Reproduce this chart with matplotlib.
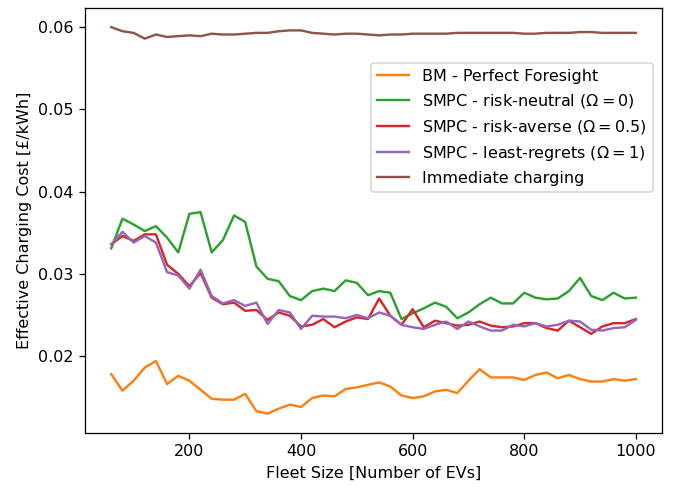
import numpy as np
import matplotlib.pyplot as plt

# fleet sizes
fleet = np.arange(60, 1001, 20)

bm_perfect = [0.0178, 0.0158, 0.0170, 0.0186, 0.0194, 0.0166, 0.0176, 0.0170, 0.0159, 0.0148,
              0.0147, 0.0147, 0.0154, 0.0133, 0.0130, 0.0136, 0.0141, 0.0138, 0.0149, 0.0152,
              0.0151, 0.0160, 0.0162, 0.0165, 0.0168, 0.0163, 0.0152, 0.0149, 0.0151, 0.0157,
              0.0159, 0.0155, 0.0170, 0.0184, 0.0174, 0.0174, 0.0174, 0.0171, 0.0177, 0.0180,
              0.0173, 0.0177, 0.0172, 0.0169, 0.0169, 0.0172, 0.0170, 0.0172]
smpc_neutral = [0.0331, 0.0367, 0.0360, 0.0352, 0.0358, 0.0344, 0.0326, 0.0373, 0.0375, 0.0326,
                0.0341, 0.0371, 0.0363, 0.0309, 0.0294, 0.0291, 0.0273, 0.0268, 0.0279, 0.0282,
                0.0279, 0.0292, 0.0289, 0.0274, 0.0279, 0.0277, 0.0245, 0.0252, 0.0258, 0.0265,
                0.0260, 0.0246, 0.0253, 0.0263, 0.0271, 0.0264, 0.0264, 0.0277, 0.0271, 0.0269,
                0.0270, 0.0279, 0.0295, 0.0273, 0.0268, 0.0277, 0.0270, 0.0271]
smpc_averse = [0.0336, 0.0346, 0.0340, 0.0348, 0.0348, 0.0311, 0.0300, 0.0285, 0.0301, 0.0271,
               0.0263, 0.0265, 0.0255, 0.0256, 0.0244, 0.0253, 0.0249, 0.0236, 0.0238, 0.0245,
               0.0235, 0.0242, 0.0247, 0.0245, 0.0270, 0.0249, 0.0238, 0.0257, 0.0235, 0.0243,
               0.0240, 0.0237, 0.0238, 0.0242, 0.0237, 0.0235, 0.0236, 0.0240, 0.0240, 0.0234,
               0.0231, 0.0243, 0.0235, 0.0227, 0.0236, 0.0240, 0.0240, 0.0245]
smpc_regrets = [0.0336, 0.0351, 0.0338, 0.0346, 0.0338, 0.0302, 0.0298, 0.0282, 0.0305, 0.0273,
                0.0264, 0.0268, 0.0261, 0.0265, 0.0239, 0.0256, 0.0253, 0.0233, 0.0249, 0.0248,
                0.0248, 0.0246, 0.0250, 0.0246, 0.0253, 0.0249, 0.0238, 0.0235, 0.0233, 0.0238,
                0.0242, 0.0233, 0.0242, 0.0236, 0.0231, 0.0231, 0.0238, 0.0236, 0.0240, 0.0236,
                0.0238, 0.0243, 0.0242, 0.0232, 0.0231, 0.0234, 0.0235, 0.0244]
immediate = [0.0600, 0.0595, 0.0593, 0.0586, 0.0591, 0.0588, 0.0589, 0.0590, 0.0589, 0.0592,
             0.0591, 0.0591, 0.0592, 0.0593, 0.0593, 0.0595, 0.0596, 0.0596, 0.0593, 0.0592,
             0.0591, 0.0592, 0.0592, 0.0591, 0.0590, 0.0591, 0.0591, 0.0592, 0.0592, 0.0592,
             0.0592, 0.0593, 0.0593, 0.0593, 0.0593, 0.0593, 0.0593, 0.0592, 0.0592, 0.0593,
             0.0593, 0.0593, 0.0594, 0.0594, 0.0593, 0.0593, 0.0593, 0.0593]

labels = ['BM - Perfect Foresight',
          r'SMPC - risk-neutral ($\Omega = 0$)',
          r'SMPC - risk-averse ($\Omega = 0.5$)',
          r'SMPC - least-regrets ($\Omega = 1$)',
          'Immediate charging']

dpi = 115
fig = plt.figure(figsize=(677 / dpi, 487 / dpi), dpi=dpi)
ax = fig.add_subplot(111)
fig.subplots_adjust(left=0.1256, right=0.978, bottom=0.111, top=0.984)

ax.plot(fleet, bm_perfect, color='tab:orange', label=labels[0])
ax.plot(fleet, smpc_neutral, color='tab:green', label=labels[1])
ax.plot(fleet, smpc_averse, color='tab:red', label=labels[2])
ax.plot(fleet, smpc_regrets, color='tab:purple', label=labels[3])
ax.plot(fleet, immediate, color='tab:brown', label=labels[4])

ax.set_xlabel('Fleet Size [Number of EVs]')
ax.set_ylabel('Effective Charging Cost [£/kWh]')
ax.legend(loc='upper right', bbox_to_anchor=(0.998, 0.89))

plt.savefig('out.png', dpi=dpi)
